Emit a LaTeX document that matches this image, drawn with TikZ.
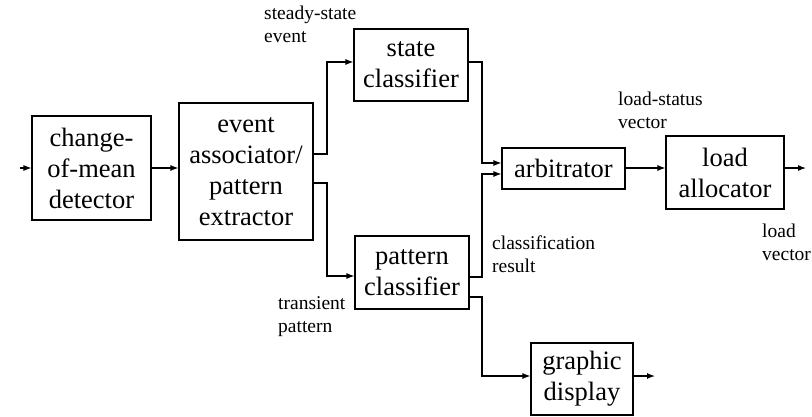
\documentclass[tikz,border=0pt]{standalone}
\usepackage{fontspec}
\setmainfont{Liberation Serif}
\usetikzlibrary{arrows.meta}
\begin{document}
\begin{tikzpicture}[x=1pt,y=-1pt,
  blk/.style={draw,line width=1.1pt,align=center,inner sep=0pt,
    font=\fontsize{26.5}{31}\selectfont},
  lbl/.style={anchor=north west,align=left,inner sep=0pt,
    font=\fontsize{19.5}{23}\selectfont},
  arr/.style={line width=1.1pt,-{Latex[length=8pt,width=6pt]}},
  ln/.style={line width=1.1pt}]
\useasboundingbox (0,0) rectangle (812,416);
\node[blk,minimum width=119pt,minimum height=104pt] (det) at (91.5,168) {change-\\of-mean\\detector};
\node[blk,minimum width=134pt,minimum height=137pt] (assoc) at (246,171.5) {event\\associator/\\pattern\\extractor};
\node[blk,minimum width=114pt,minimum height=72pt] (state) at (411,65) {state\\classifier};
\node[blk,minimum width=114pt,minimum height=73pt] (patt) at (412,272.5) {pattern\\classifier};
\node[blk,minimum width=123pt,minimum height=41pt] (arb) at (563.5,168.5) {arbitrator};
\node[blk,minimum width=118pt,minimum height=73pt] (alloc) at (725,172.5) {load\\allocator};
\node[blk,minimum width=102pt,minimum height=72pt] (disp) at (582,379) {graphic\\display};
\coordinate (in) at (20,168);
\coordinate (out1) at (806,168);
\coordinate (out2) at (655,376);
\draw[arr] (in) -- (det.west |- in);
\draw[arr] (det.east |- in) -- (assoc.west |- in);
\draw[arr] (assoc.east |- 0,154) -- (327,154) |- (state.west |- 0,62);
\draw[arr] (assoc.east |- 0,183) -- (327,183) |- (patt.west |- 0,276);
\draw[arr] (state.east |- 0,62) -- (482,62) |- (arb.west |- 0,163);
\draw[arr] (patt.east |- 0,277) -- (482,277) |- (arb.west |- 0,174);
\draw[arr] (arb.east |- in) -- (alloc.west |- in);
\draw[arr] (alloc.east |- out1) -- (out1);
\draw[arr] (patt.east |- 0,297) -- (482,297) |- (disp.west |- out2);
\draw[arr] (disp.east |- out2) -- (out2);
\node[lbl] (l1) at (264,6) {steady-state\\event};
\node[lbl] (l2) at (618,92) {load-status\\vector};
\node[lbl] (l3) at (492,236) {classification\\result};
\node[lbl] (l4) at (278,296) {transient\\pattern};
\node[lbl] (l5) at (762,224) {load\\vector};
\end{tikzpicture}
\end{document}
